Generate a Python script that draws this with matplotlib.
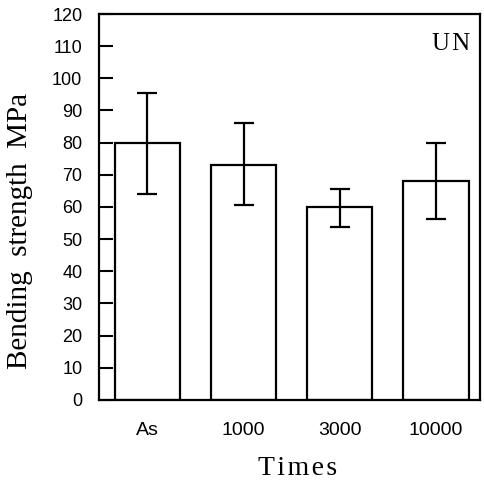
import matplotlib.pyplot as plt

categories = ['As', '1000', '3000', '10000']
strength = [80, 73, 60, 68]
err_upper = [95.5, 86, 65.5, 79.8]
err_lower = [64, 60.7, 53.7, 56.3]

yerr = [[s - lo for s, lo in zip(strength, err_lower)],
        [hi - s for s, hi in zip(strength, err_upper)]]

fig = plt.figure(figsize=(4.85, 4.83), dpi=100)
ax = fig.add_axes([0.204, 0.172, 0.786, 0.799])

x = range(len(categories))
ax.bar(x, strength, width=0.68, color='white', edgecolor='black', linewidth=1.6)
ax.errorbar(x, strength, yerr=yerr, fmt='none', ecolor='black',
            elinewidth=1.6, capsize=7, capthick=1.6)

ax.set_xlim(-0.505, 3.46)
ax.set_ylim(0, 120)
ax.set_yticks(range(0, 121, 10))
ax.set_xticks(list(x))
ax.set_xticklabels(categories, family='Liberation Sans', fontsize=14)
ax.tick_params(axis='x', length=0, pad=16)
ax.tick_params(axis='y', direction='in', length=10, width=1.5, labelsize=13, pad=12)
for lab in ax.get_yticklabels():
    lab.set_family('Liberation Sans')
for sp in ax.spines.values():
    sp.set_linewidth(1.6)

ax.set_ylabel('Bending  strength  MPa', family='Liberation Serif', fontsize=21)
ax.yaxis.set_label_coords(-0.172, 0.438)
ax.set_xlabel('T\u200ai\u200am\u200ae\u200as', family='Liberation Serif', fontsize=20)
ax.xaxis.set_label_coords(0.52, -0.145)
ax.text(0.975, 0.922, 'U\u200aN', transform=ax.transAxes, ha='right', va='center',
        family='Liberation Serif', fontsize=18)

fig.savefig('out.png', dpi=100)
